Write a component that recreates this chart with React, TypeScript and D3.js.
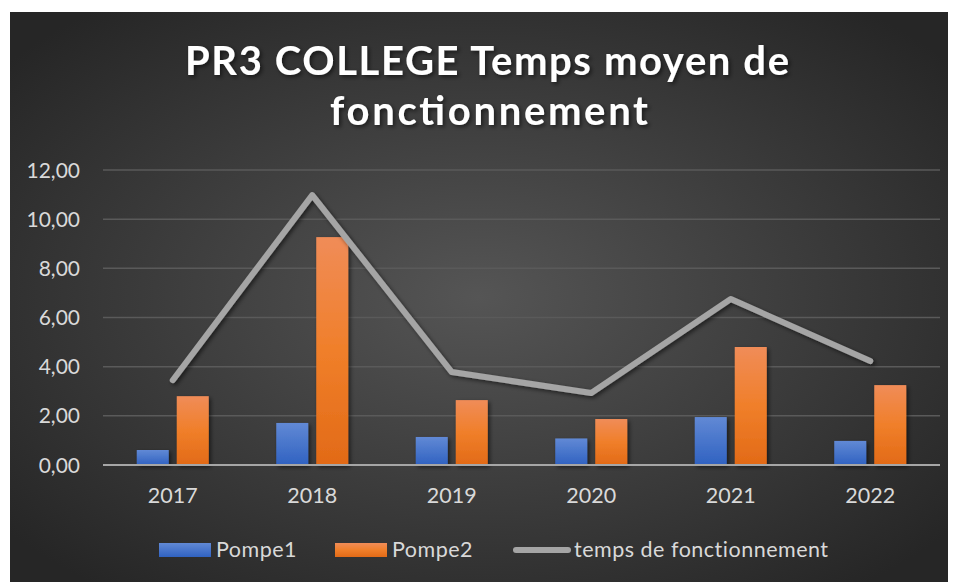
import * as d3 from 'd3';

const years = ['2017', '2018', '2019', '2020', '2021', '2022'];
const pompe1 = [0.61, 1.71, 1.14, 1.08, 1.95, 0.98];
const pompe2 = [2.8, 9.27, 2.64, 1.87, 4.8, 3.25];
const temps = [3.45, 10.98, 3.78, 2.93, 6.75, 4.23];
const yTicks = [0, 2, 4, 6, 8, 10, 12];

const W = 956;
const H = 582;
const margin = { top: 170, right: 16, bottom: 117, left: 103 };
const font = "Lato, 'Open Sans', sans-serif";

const App = () => {
  const x = d3.scaleBand()
    .domain(years)
    .range([margin.left, W - margin.right]);

  const y = d3.scaleLinear()
    .domain([0, 12])
    .range([H - margin.bottom, margin.top]);

  const barW = 32;
  const gap = 8;
  const fmt = (v: number) => v.toFixed(2).replace('.', ',');

  const line = d3.line<number>()
    .x((d, i) => x(years[i])! + x.bandwidth() / 2)
    .y(d => y(d));

  return (
    <svg width={W} height={H} style={{ position: 'absolute', left: 0, top: 0 }}>
      <defs>
        <radialGradient id="bg" cx="50%" cy="50%" r="65%">
          <stop offset="0%" stopColor="#555555" />
          <stop offset="100%" stopColor="#262626" />
        </radialGradient>
        <linearGradient id="blue" x1="0" y1="0" x2="0" y2="1">
          <stop offset="0%" stopColor="#6189d5" />
          <stop offset="100%" stopColor="#3062c1" />
        </linearGradient>
        <linearGradient id="orange" x1="0" y1="0" x2="0" y2="1">
          <stop offset="0%" stopColor="#f08c58" />
          <stop offset="50%" stopColor="#f07f2a" />
          <stop offset="100%" stopColor="#e26a17" />
        </linearGradient>
        <filter id="shadow" x="-20%" y="-20%" width="140%" height="140%">
          <feDropShadow dx="2" dy="2" stdDeviation="2" floodColor="#000" floodOpacity="0.55" />
        </filter>
      </defs>
      <rect x={0} y={0} width={W} height={H} fill="#ffffff" />
      <rect x={10} y={12} width={938} height={H - 12} fill="url(#bg)" />

      <g fill="#ffffff" fontFamily={font} fontWeight="bold" fontSize={40} textAnchor="middle" filter="url(#shadow)">
        <text x={487} y={75} textLength={604} lengthAdjust="spacing">PR3 COLLEGE Temps moyen de</text>
        <text x={489} y={125} textLength={318} lengthAdjust="spacing">fonctionnement</text>
      </g>

      {yTicks.map(t => (
        <g key={t}>
          {t > 0 && (
            <line x1={margin.left} x2={W - margin.right} y1={y(t)} y2={y(t)} stroke="#5a5a5a" strokeWidth={1.5} />
          )}
          <text x={80} y={y(t)} dy="0.36em" textAnchor="end" fill="#d9d9d9" fontFamily={font} fontSize={21}>
            {fmt(t)}
          </text>
        </g>
      ))}

      <g filter="url(#shadow)">
        {years.map((yr, i) => {
          const cx = x(yr)! + x.bandwidth() / 2;
          return (
            <g key={yr}>
              <rect x={cx - gap / 2 - barW} y={y(pompe1[i])} width={barW} height={y(0) - y(pompe1[i])} fill="url(#blue)" />
              <rect x={cx + gap / 2} y={y(pompe2[i])} width={barW} height={y(0) - y(pompe2[i])} fill="url(#orange)" />
            </g>
          );
        })}
      </g>

      <line x1={margin.left} x2={W - margin.right} y1={y(0)} y2={y(0)} stroke="#a6a6a6" strokeWidth={2} />

      <path d={line(temps) ?? ''} fill="none" stroke="#a5a5a5" strokeWidth={6} strokeLinecap="round" strokeLinejoin="round" filter="url(#shadow)" />

      {years.map(yr => (
        <text key={yr} x={x(yr)! + x.bandwidth() / 2} y={503} textAnchor="middle" fill="#d9d9d9" fontFamily={font} fontSize={21.5}>
          {yr}
        </text>
      ))}

      <g fontFamily={font} fontSize={21.5} fill="#d9d9d9" letterSpacing={0.5}>
        <rect x={159} y={543} width={52} height={14} fill="url(#blue)" />
        <text x={216} y={557}>Pompe1</text>
        <rect x={335} y={543} width={52} height={14} fill="url(#orange)" />
        <text x={392} y={557}>Pompe2</text>
        <line x1={516} x2={568} y1={550} y2={550} stroke="#a5a5a5" strokeWidth={6} strokeLinecap="round" />
        <text x={574} y={557}>temps de fonctionnement</text>
      </g>
    </svg>
  );
};

export default App;
